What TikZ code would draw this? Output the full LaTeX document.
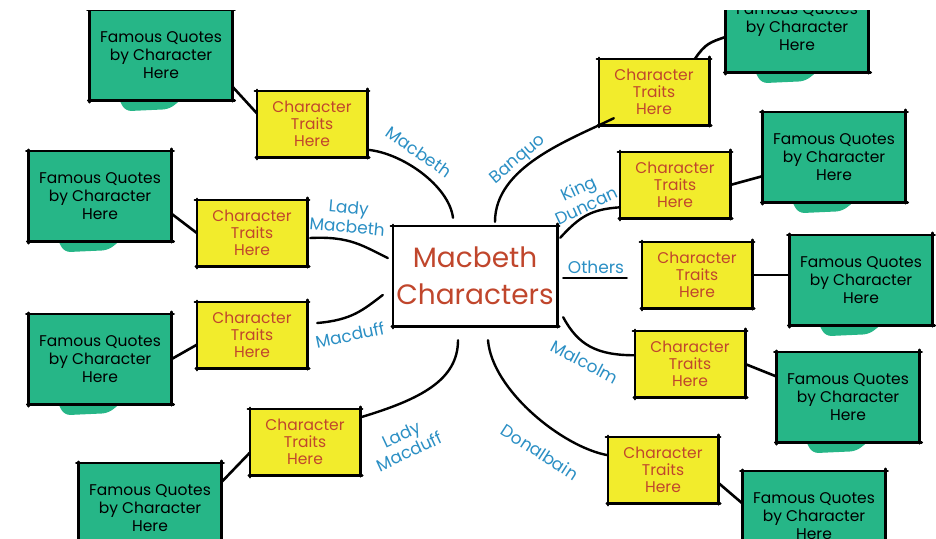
\documentclass[tikz,border=0pt]{standalone}
\usepackage{fontspec}
\setmainfont{Poppins}
\usetikzlibrary{calc}
\pgfdeclarelayer{bg}
\pgfsetlayers{bg,main}
\definecolor{ylw}{HTML}{F2EC2C}
\definecolor{grn}{HTML}{26B687}
\definecolor{rust}{HTML}{C0462C}
\definecolor{lblue}{HTML}{2B8FC4}
\begin{document}
\begin{tikzpicture}[x=1pt,y=-1pt,
  trait/.style={fill=ylw, minimum width=110pt, minimum height=66pt, align=center,
    text=rust, font=\fontsize{15.5}{17}\selectfont, inner sep=0pt},
  quote/.style={fill=grn, minimum width=143pt, minimum height=90pt, align=center,
    text=black, font=\fontsize{15.5}{18}\selectfont, inner sep=0pt},
  centre/.style={minimum width=164pt, minimum height=100pt, align=center,
    text=rust, font=\fontsize{28}{37}\selectfont, inner sep=0pt},
  branch/.style={line width=2.4pt, line cap=round},
  edge/.style={line width=2.6pt, line cap=round},
  border/.style={line width=2.6pt, line cap=round},
  lbl/.style={text=lblue, font=\fontsize{17}{19}\selectfont, align=center, inner sep=0pt},
]
\useasboundingbox (0,0) rectangle (936,538);
\clip (0,10) rectangle (936,538);

% central box
\node[centre] (c) at (475,276) {Macbeth\\Characters};

% trait boxes
\node[trait] (y1) at (312,124) {Character\\Traits\\Here};
\node[trait] (y2) at (252,233) {Character\\Traits\\Here};
\node[trait] (y3) at (252,335) {Character\\Traits\\Here};
\node[trait] (y4) at (305,442) {Character\\Traits\\Here};
\node[trait] (y5) at (654,92) {Character\\Traits\\Here};
\node[trait] (y6) at (675,185) {Character\\Traits\\Here};
\node[trait] (y7) at (697,275) {Character\\Traits\\Here};
\node[trait] (y8) at (690,364) {Character\\Traits\\Here};
\node[trait] (y9) at (663,470) {Character\\Traits\\Here};

% quote boxes
\node[quote] (g1) at (161,55) {Famous Quotes\\by Character\\Here};
\node[quote] (g2) at (100,196) {Famous Quotes\\by Character\\Here};
\node[quote] (g3) at (100,359) {Famous Quotes\\by Character\\Here};
\node[quote] (g4) at (150,508) {Famous Quotes\\by Character\\Here};
\node[quote] (g5) at (797,27) {Famous Quotes\\by Character\\Here};
\node[quote] (g6) at (834,157) {Famous Quotes\\by Character\\Here};
\node[quote] (g7) at (861,280) {Famous Quotes\\by Character\\Here};
\node[quote] (g8) at (848,397) {Famous Quotes\\by Character\\Here};
\node[quote] (g9) at (814,516) {Famous Quotes\\by Character\\Here};

% brush spills below the green boxes
\begin{pgfonlayer}{bg}
\foreach \n in {g1,g2,g3,g4,g5,g6,g7,g8,g9}{
  \fill[grn, rounded corners=6pt] ([shift={(28,-4)}]\n.south west) -- ([shift={(36,11)}]\n.south west)
     -- ([shift={(80,9)}]\n.south west) -- ([shift={(96,-4)}]\n.south west) -- cycle;
}
\end{pgfonlayer}

% hand-drawn borders
\foreach \n in {c,y1,y2,y3,y4,y5,y6,y7,y8,y9,g1,g2,g3,g4,g5,g6,g7,g8,g9}{
  \draw[border] ([shift={(-2,0)}]\n.north west) -- ([shift={(2,0)}]\n.north east);
  \draw[border] ([shift={(-1,0)}]\n.south west) -- ([shift={(2,0)}]\n.south east);
  \draw[border] ([shift={(0,-1)}]\n.north west) -- ([shift={(0,2)}]\n.south west);
  \draw[border] ([shift={(0,-2)}]\n.north east) -- ([shift={(0,1)}]\n.south east);
}

% trait -> quote connectors
\draw[edge] (y1.169) -- (g1.-24);
\draw[edge] (y2.west) -- (g2.-14);
\draw[edge] (y3.190) -- (g3.east);
\draw[edge] (y4.191) -- (g4.20);
\draw[edge] (y5.39) .. controls +(10,-15) and +(-15,5) .. (g5.188);
\draw[edge] (y6.east) -- (g6.195);
\draw[edge] (y7.east) -- (y7.east -| g7.west);
\draw[edge] (y8.east) -- (g8.164);
\draw[edge] (y9.-13) -- (g9.170);

% branches from the centre
\draw[branch] (y1.-25) .. controls +(35,3) and +(-4,-32) .. ([shift={(-22,-8)}]c.north);
\draw[branch] ([shift={(3,5)}]y2.east) .. controls +(40,-2) and +(-25,-12) .. ([shift={(-5,-18)}]c.west);
\draw[branch] ([shift={(10,-12)}]y3.east) .. controls +(35,-3) and +(-20,15) .. ([shift={(-10,19)}]c.west);
\draw[branch] (y4.24) .. controls +(60,-18) and +(0,40) .. ([shift={(-17,14)}]c.south);
\draw[branch] ([shift={(20,-4)}]c.north) .. controls +(0,-55) and +(-45,22) .. ([shift={(15,-7)}]y5.south west);
\draw[branch] ([shift={(3,12)}]c.north east) .. controls +(20,-22) and +(-28,2) .. (y6.202);
\draw[branch] ([shift={(6,2)}]c.east) -- ([shift={(-15,3)}]y7.west);
\draw[branch] ([shift={(6,-9)}]c.south east) .. controls +(15,28) and +(-38,0) .. (y8.171);
\draw[branch] ([shift={(13,14)}]c.south) .. controls +(4,50) and +(-45,-8) .. (y9.165);

% labels
\node[lbl, rotate=-35] (lmacbeth) at (419,152) {Macbeth};
\node[lbl, rotate=-5] (lladym) at (348,217) {Lady\\Macbeth};
\node[lbl, rotate=12] (lmacduff) at (350,335) {Macduff};
\node[lbl, rotate=25] (lladymd) at (405,443) {Lady\\Macduff};
\node[lbl, rotate=40] (lbanquo) at (518,160) {Banquo};
\node[lbl, rotate=25] (lduncan) at (582,197) {King\\Duncan};
\node[lbl] (lothers) at (596,267) {Others};
\node[lbl, rotate=-28] (lmalcolm) at (585,362) {Malcolm};
\node[lbl, rotate=-33] (ldonal) at (540,452) {Donalbain};
\end{tikzpicture}
\end{document}
